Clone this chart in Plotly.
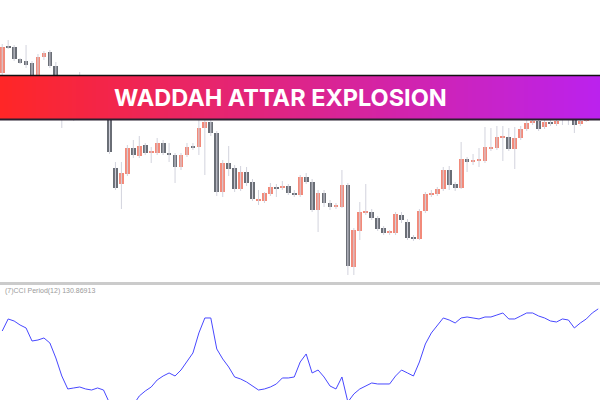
import plotly.graph_objects as go

# ---- data (price units) ----
open_ = [227, 254, 253, 241, 239, 237, 218, 243, 248, 234,
         210, 188, 200, 192, 212, 202, 194, 204, 196, 132,
         116, 126, 152, 144, 155, 147, 147, 157, 147, 145,
         133, 145, 154, 153, 172, 178, 167, 108, 137, 132,
         111, 128, 118, 99, 99, 106, 113, 112, 114.5, 107,
         105, 123, 118, 90, 107, 97, 93, 93, 115, 33,
         69, 87, 88, 82, 72, 67, 67, 85, 78, 63,
         61, 89, 105, 106, 111, 130, 116, 112, 141, 138,
         139, 139, 151, 152, 162.5, 163, 151, 162, 171, 177,
         179, 173, 178, 176, 180, 190, 180, 176, 179, 188,
         196]
high = [256, 260, 255, 242, 255, 239, 246, 249, 250, 238,
        214, 204, 205, 228, 215, 206, 208, 207, 200, 138,
        138, 155, 160, 164, 157, 153, 162, 160, 157, 147,
        147, 157, 157, 181, 188, 190, 169, 140, 154, 135,
        134, 133, 121, 110, 108, 117, 116, 119, 116, 110,
        125, 127, 121, 110, 110, 100, 97, 130, 117, 72,
        98, 116, 91, 84, 74, 70, 88, 88, 81, 65,
        91, 108, 110, 113, 133, 134, 118, 158, 143, 146,
        152, 173, 172, 174, 174, 172, 173, 174, 182, 188,
        183, 182, 181, 185, 196, 194, 188, 185, 194, 200,
        200]
low = [225, 251, 239, 236, 232, 212, 215, 240, 232, 207,
       172, 184, 179, 189, 198, 190, 191, 192, 146, 110,
       91, 124, 142, 142, 145, 137, 145, 145, 138, 117,
       130, 143, 150, 145, 125, 164, 104, 103, 124, 108,
       109, 114, 99, 95, 97, 104, 103, 110, 105, 103,
       103, 116, 88, 68, 93, 90, 91, 92, 25, 25,
       60, 85, 80, 69, 65, 65, 65, 77, 60, 59,
       60, 87, 103, 104, 109, 110, 109, 111, 128, 135,
       133, 137, 149, 150, 139, 149, 131, 160, 169, 175,
       169, 171, 174, 174, 175, 175, 167, 174, 178, 186,
       188]
close = [253, 252.5, 241, 237, 235, 215, 243, 247, 234, 210,
         188, 200, 192, 212, 202, 194, 204, 196, 148, 112,
         127, 152, 145, 154, 147, 148, 157, 147, 145, 133,
         145, 153, 152, 172, 178, 167, 108, 137, 131, 111,
         128, 117, 101, 100.5, 107, 113, 111.5, 114.5, 107, 105,
         123, 118, 90, 107, 97, 93, 94, 115, 34, 70,
         88, 88, 82, 71, 67, 68, 86, 80, 62, 61,
         89, 106, 107, 111, 130, 115, 112, 141, 138, 140,
         141, 153, 152, 163, 164, 151, 162, 171, 177, 179,
         171, 178, 176, 179, 190, 180, 175, 179, 188, 196,
         192]
cci = [70.7, 103.4, 97.9, 87.0, 78.9, 43.5, 46.2, 51.7, 38.1, -2.7,
       -51.7, -87.0, -84.3, -81.6, -87.0, -89.8, -84.3, -89.8, -125.1, -157.8,
       -171.4, -157.8, -130.6, -106.1, -92.5, -81.6, -62.6, -51.7, -43.5, -51.7,
       -35.4, -13.6, 10.9, 65.3, 106.1, 106.1, 21.8, -5.4, -27.2, -54.4,
       -59.8, -68.0, -78.9, -89.8, -87.0, -81.6, -73.4, -57.1, -57.1, -54.4,
       -13.6, 8.2, -43.5, -35.4, -54.4, -78.9, -87.0, -54.4, -122.4, -100.6,
       -87.0, -78.9, -70.7, -73.4, -73.4, -73.4, -51.7, -35.4, -43.5, -51.7,
       -13.6, 35.4, 65.3, 84.3, 106.1, 100.6, 92.5, 106.1, 108.8, 106.1,
       103.4, 108.8, 108.8, 114.2, 119.7, 103.4, 103.4, 111.5, 119.7, 119.7,
       111.5, 106.1, 97.9, 95.2, 103.4, 100.6, 78.9, 92.5, 103.4, 119.7,
       130.87]
title_text = "WADDAH ATTAR EXPLOSION"
cci_label = "(7)CCI Period(12) 130.86913"

UP = "#f28a7a"
DOWN = "#6a6e76"
WICK = "#d2d3dd"
LINE = "#4848ff"

n = len(open_)
idx = list(range(n))

fig = go.Figure()

# wicks
wx, wy = [], []
for i in idx:
    wx += [i, i, None]
    wy += [low[i], high[i], None]
fig.add_trace(go.Scatter(x=wx, y=wy, mode="lines", line=dict(color=WICK, width=1),
                         hoverinfo="skip", showlegend=False, xaxis="x", yaxis="y"))

# bodies
base = [min(o, c) for o, c in zip(open_, close)]
hgt = [max(abs(c - o), 1.5) for o, c in zip(open_, close)]
cols = [UP if c >= o else DOWN for o, c in zip(open_, close)]
fig.add_trace(go.Bar(x=idx, y=hgt, base=base, width=0.8,
                     marker=dict(color=cols, line=dict(width=0)),
                     showlegend=False, xaxis="x", yaxis="y"))

# CCI
fig.add_trace(go.Scatter(x=idx, y=cci, mode="lines", line=dict(color=LINE, width=1),
                         showlegend=False, xaxis="x", yaxis="y2"))

W, H = 600, 400
shapes = []
# separator
shapes.append(dict(type="rect", xref="paper", yref="paper", x0=0, x1=1,
                   y0=(H - 285) / H, y1=(H - 282) / H, fillcolor="#cbcbcb",
                   line=dict(width=0), layer="above"))

# banner gradient
c0 = (255, 38, 38)
c1 = (187, 34, 238)
top, bot = 75.5, 119.5
steps = 150
for k in range(steps):
    t = (k + 0.5) / steps
    r = round(c0[0] + (c1[0] - c0[0]) * t)
    g = round(c0[1] + (c1[1] - c0[1]) * t)
    b = round(c0[2] + (c1[2] - c0[2]) * t)
    shapes.append(dict(type="rect", xref="paper", yref="paper",
                       x0=k / steps, x1=min(1, (k + 1.6) / steps),
                       y0=(H - bot) / H, y1=(H - top) / H,
                       fillcolor=f"rgb({r},{g},{b})", line=dict(width=0), layer="above"))
shapes.append(dict(type="line", xref="paper", yref="paper", x0=0, x1=1,
                   y0=(H - top) / H, y1=(H - top) / H, line=dict(color="#111111", width=1.5), layer="above"))
shapes.append(dict(type="line", xref="paper", yref="paper", x0=0, x1=1,
                   y0=(H - bot) / H, y1=(H - bot) / H, line=dict(color="#2a2030", width=2), layer="above"))

annotations = [
    dict(text=title_text, xref="paper", yref="paper", x=280 / W, y=(H - 97.5) / H,
         xanchor="center", yanchor="middle", showarrow=False,
         font=dict(family="Inter", size=23.5, color="white", weight=700)),
    dict(text=cci_label, xref="paper", yref="paper", x=3 / W, y=(H - 291) / H,
         xanchor="left", yanchor="middle", showarrow=False,
         font=dict(family="Liberation Sans", size=7, color="#9a9a9a")),
]

axis_off = dict(showgrid=False, zeroline=False, showticklabels=False, showline=False, ticks="")
fig.update_layout(
    width=W, height=H, margin=dict(l=0, r=0, t=0, b=0),
    paper_bgcolor="white", plot_bgcolor="white",
    xaxis=dict(range=[-0.37, 100.3], domain=[0, 1], **axis_off),
    yaxis=dict(range=[20, 300], domain=[0.3, 1], anchor="x", **axis_off),
    yaxis2=dict(range=[-117.0, 193.1], domain=[0, 0.285], anchor="x", **axis_off),
    shapes=shapes, annotations=annotations, showlegend=False, bargap=0,
)

fig.write_html("out.html", config={"displayModeBar": False},
               post_script="document.body.style.margin='0';document.body.style.overflow='hidden';")
